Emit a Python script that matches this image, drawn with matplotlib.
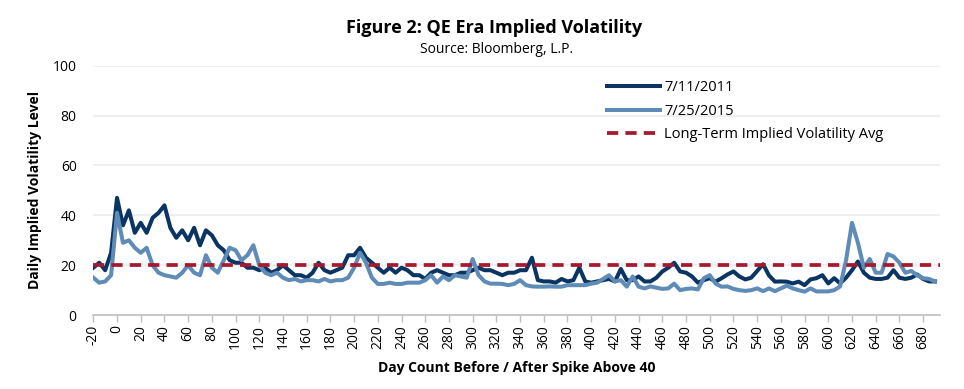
import matplotlib
matplotlib.use('Agg')
import matplotlib.pyplot as plt

plt.rcParams['font.family'] = ['Open Sans', 'DejaVu Sans']

# --- Dati (un punto ogni 5 giorni) ---
days = list(range(-20, 695, 5))

vol_2011 = [19, 21, 18, 25, 47, 36, 42, 33, 37, 33, 39, 41, 44, 35, 31, 34, 30, 35, 28, 34,
            32, 28, 26, 22, 21, 21, 19, 19, 18, 19, 17, 18, 20, 18, 16, 16, 15, 17, 21, 18,
            17, 18, 19, 24, 24, 27, 23, 21, 19, 17, 19, 17, 19, 18, 16, 16, 14.5, 17, 18, 17,
            16, 16, 17, 17, 18, 19, 18, 18, 17, 16, 17, 17, 18, 18, 23, 14, 13.5, 13.5, 13, 14.5,
            13.5, 14, 19, 13.5, 13, 13.5, 14, 14.5, 13.5, 18.5, 14, 14, 15.5, 13.5, 13.5, 15, 17.5, 19, 21, 17.5,
            17, 15.5, 13, 14, 14.8, 13.4, 14.8, 16.3, 17.5, 15.5, 14.3, 15, 17.7, 20.4, 15.9, 13.4, 13.5, 13.4, 12.7, 13.4,
            12, 14.3, 14.8, 16, 12.7, 14.8, 12.7, 15, 18, 21.5, 17, 15, 14.5, 14.5, 15, 18, 15, 14.5, 15, 16.3,
            14.5, 13.5, 13.5]

vol_2015 = [15, 13, 13.5, 16, 41, 29, 30, 27, 25, 27, 20, 17, 16, 15.5, 15, 17, 20, 17, 16, 24,
            19, 17, 22, 27, 26, 22, 24, 28, 20, 17, 16, 17, 15, 14, 14.5, 13.5, 14, 14, 13.5, 14.5,
            13.5, 14, 14, 15, 19, 25, 21, 15, 12.5, 12.5, 13, 12.5, 12.5, 13, 13, 13, 14, 16, 13, 15.5,
            14, 16, 15.5, 15, 22.5, 16, 13.5, 12.6, 12.6, 12.5, 12, 12.5, 14, 12, 11.5, 11.4, 11.4, 11.5, 11.4, 11.4,
            12, 12, 12, 12, 12.6, 13, 14.5, 16, 13.5, 14, 11.4, 15.5, 11.4, 10.7, 11.5, 11, 10.5, 10.7, 12.6, 10,
            10.5, 10.7, 10.3, 14.8, 16, 12.6, 11.4, 11.5, 10.5, 10, 9.7, 10, 10.7, 9.6, 10.7, 9.6, 10.7, 11.8, 10.7, 10,
            9.4, 10.7, 9.5, 9.5, 9.5, 10, 11.5, 22, 37, 29, 19, 22.5, 17, 17, 24.5, 23.5, 21, 17, 17.7, 16,
            14.8, 14.5, 13.5]

long_term_avg = 20

x_ticks = list(range(-20, 681, 20))
y_ticks = [0, 20, 40, 60, 80, 100]

# --- Grafico ---
fig = plt.figure(figsize=(9.64, 3.89), dpi=100)
ax = fig.add_axes([0.0968, 0.190, 0.878, 0.641])

ax.plot(days, vol_2011, color='#0a3563', linewidth=2.9, label='7/11/2011', zorder=3)
ax.plot(days, vol_2015, color='#5f8bb7', linewidth=2.9, label='7/25/2015', zorder=4)
ax.plot([-20, 694], [long_term_avg, long_term_avg], color='#a6192e', linewidth=2.7,
        linestyle=(0, (3.0, 1.9)), label='Long-Term Implied Volatility Avg', zorder=5)

ax.set_xlim(-20, 694)
ax.set_ylim(0, 100)
ax.set_yticks(y_ticks)
ax.set_xticks(x_ticks)
ax.set_xticklabels([str(t) for t in x_ticks], rotation=90, fontsize=10)
ax.tick_params(axis='y', length=0, labelsize=10, pad=12)
ax.tick_params(axis='x', length=5, width=1, color='#bfbfbf', pad=2)
ax.grid(axis='y', color='#efefef', linewidth=1.5, zorder=0)
ax.set_axisbelow(True)
for side in ['top', 'right', 'left']:
    ax.spines[side].set_visible(False)
ax.spines['bottom'].set_color('#bfbfbf')
ax.spines['bottom'].set_linewidth(1.2)

ax.set_ylabel('Daily Implied Volatility Level', fontsize=10, fontweight='bold', labelpad=8)
ax.set_xlabel('Day Count Before / After Spike Above 40', fontsize=10, fontweight='bold', labelpad=9)

fig.text(0.513, 0.928, 'Figure 2: QE Era Implied Volatility', ha='center', va='center',
         fontsize=13, fontweight='bold')
fig.text(0.515, 0.874, 'Source: Bloomberg, L.P.', ha='center', va='center', fontsize=10)

ax.legend(loc='upper left', bbox_to_anchor=(0.595, 0.984), frameon=False, fontsize=10.5,
          handlelength=3.6, handletextpad=0.3, labelspacing=0.6, borderpad=0.2)

fig.savefig('out.png', dpi=100)
